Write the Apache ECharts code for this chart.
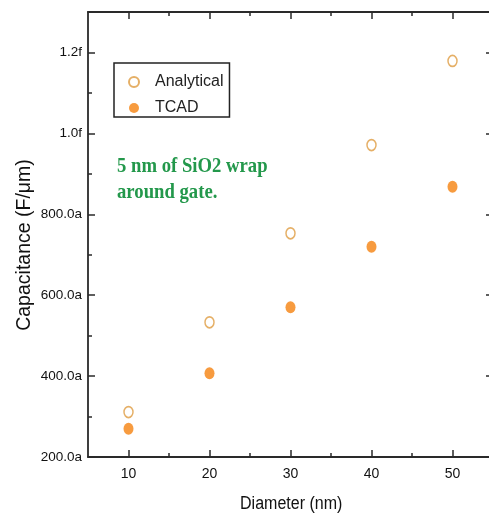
<!DOCTYPE html>
<html>
<head>
<meta charset="utf-8">
<script src="https://cdn.jsdelivr.net/npm/echarts@6/dist/echarts.min.js"></script>
<style>html,body{margin:0;padding:0;background:#fff}#c{width:489px;height:519px}</style>
</head>
<body>
<div id="c"></div>
<script>
var diameters = [10, 20, 30, 40, 50];
var analytical = [311, 533, 753, 971, 1179];
var tcad = [270, 407, 570, 720, 868];
var xTicks = [10, 20, 30, 40, 50];
var xMinor = [15, 25, 35, 45];
var yTicks = [200, 400, 600, 800, 1000, 1200];
var yTickLabels = ['200.0a', '400.0a', '600.0a', '800.0a', '1.0f', '1.2f'];
var yMinor = [300, 500, 700, 900, 1100];
var annotationLines = ['5 nm of SiO2 wrap', 'around gate.'];

var axisColor = '#2a2a2a';
var chart = echarts.init(document.getElementById('c'));

function xAx(pos, ticks, len, showLine, showLabel) {
  return {
    type: 'value', position: pos, min: 5, max: 55,
    axisLine: {show: showLine, lineStyle: {color: axisColor, width: 1.8}},
    axisTick: {show: true, inside: true, length: len, customValues: ticks, lineStyle: {color: axisColor, width: 1.5}},
    axisLabel: showLabel ? {show: true, customValues: ticks, margin: 10, color: '#111', fontSize: 14, fontFamily: 'Liberation Sans, Arial, sans-serif'} : {show: false},
    splitLine: {show: false}
  };
}
function yAx(pos, ticks, len, showLine, showLabel) {
  return {
    type: 'value', position: pos, min: 200, max: 1300,
    axisLine: {show: showLine, lineStyle: {color: axisColor, width: 1.8}},
    axisTick: {show: true, inside: true, length: len, customValues: ticks, lineStyle: {color: axisColor, width: 1.5}},
    axisLabel: showLabel ? {show: true, customValues: ticks, margin: 6, color: '#111', fontSize: 13.5, fontFamily: 'Liberation Sans, Arial, sans-serif',
      formatter: function (v) { var i = yTicks.indexOf(v); return i >= 0 ? yTickLabels[i] : ''; }} : {show: false},
    splitLine: {show: false}
  };
}

var option = {
  animation: false,
  backgroundColor: '#fff',
  grid: {left: 88, top: 12, width: 405, height: 445, containLabel: false, outerBoundsMode: 'none'},
  xAxis: [
    xAx('bottom', xTicks, 7, true, true),
    xAx('bottom', xMinor, 4, false, false),
    xAx('top', xTicks, 7, true, false),
    xAx('top', xMinor, 4, false, false)
  ],
  yAxis: [
    yAx('left', yTicks, 7, true, true),
    yAx('left', yMinor, 4, false, false),
    yAx('right', yTicks, 7, false, false),
    yAx('right', yMinor, 4, false, false)
  ],
  legend: {
    orient: 'vertical', left: 114, top: 63,
    padding: [11, 6, 1, 14],
    itemGap: 10, itemWidth: 32, itemHeight: 10,
    borderColor: '#222', borderWidth: 1.5,
    textStyle: {fontSize: 16, color: '#222', fontFamily: 'Liberation Sans, Arial, sans-serif'},
    data: ['Analytical', 'TCAD']
  },
  graphic: [
    {type: 'text', left: 117, top: 156, scaleX: 0.89,
      style: {text: annotationLines[0], fill: '#23984b', font: 'bold 21px "Liberation Serif", serif'}},
    {type: 'text', left: 117, top: 182, scaleX: 0.89,
      style: {text: annotationLines[1], fill: '#23984b', font: 'bold 21px "Liberation Serif", serif'}},
    {type: 'text', left: 240, top: 495, scaleX: 0.89,
      style: {text: 'Diameter (nm)', fill: '#111', font: '18px "Liberation Sans", Arial, sans-serif'}},
    {type: 'text', x: 25, y: 245, rotation: Math.PI / 2,
      style: {text: 'Capacitance (F/\u03bcm)', fill: '#111', font: '19.5px "Liberation Sans", Arial, sans-serif', align: 'center', verticalAlign: 'middle'}}
  ],
  series: [
    {name: 'Analytical', type: 'scatter', xAxisIndex: 0, yAxisIndex: 0, symbol: 'circle', symbolSize: [9, 11],
      itemStyle: {color: '#fff', borderColor: '#DE9B40', borderWidth: 1.6},
      data: diameters.map(function (d, i) { return [d, analytical[i]]; })},
    {name: 'TCAD', type: 'scatter', xAxisIndex: 0, yAxisIndex: 0, symbol: 'circle', symbolSize: [10, 12],
      itemStyle: {color: '#F5820F'},
      data: diameters.map(function (d, i) { return [d, tcad[i]]; })}
  ]
};
chart.setOption(option);
</script>
</body>
</html>
